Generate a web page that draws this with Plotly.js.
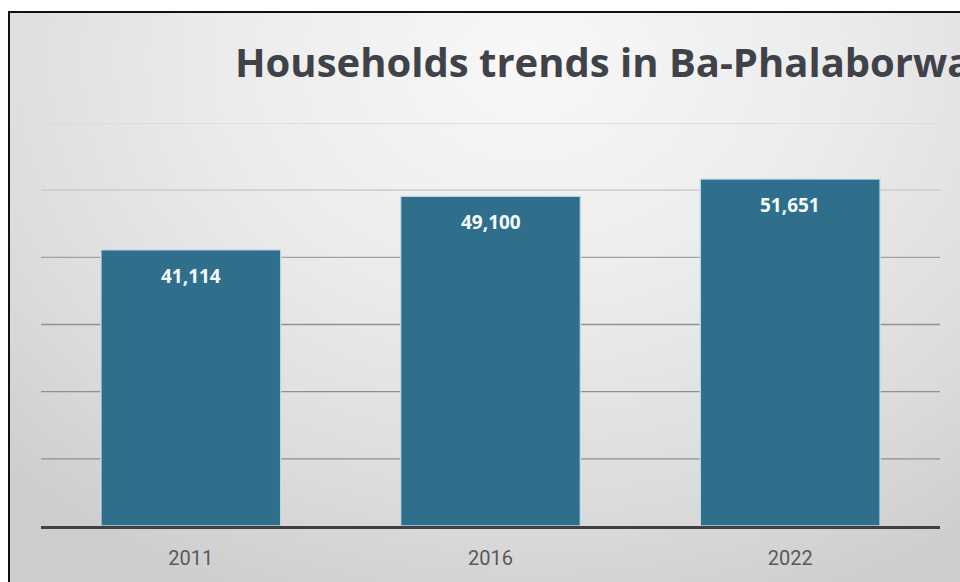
<!DOCTYPE html>
<html>
<head>
<meta charset="utf-8">
<script src="https://cdn.plot.ly/plotly-3.0.1.min.js"></script>
<style>
  html, body { margin: 0; padding: 0; width: 960px; height: 582px; overflow: hidden; background: #ffffff; }
  #frame {
    position: absolute; left: 8px; top: 11px;
    width: 1000px; height: 620px;
    border: 2px solid #111111;
    background: radial-gradient(ellipse 75% 95% at 52% 8%, #f8f8f8 0%, #ececec 40%, #dcdcdc 75%, #cdcdcd 100%);
  }
  #chart { width: 1000px; height: 620px; }
</style>
</head>
<body>
<div id="frame"><div id="chart"></div></div>
<script>
const years = ['2011', '2016', '2022'];
const households = [41114, 49100, 51651];
const labels = ['41,114', '49,100', '51,651'];
const gridValues = [10000, 20000, 30000, 40000, 50000, 60000];
const gridColors = ['#8e8e8e', '#909090', '#939393', '#a2a2a2', '#c6c6c6', '#d9d9d9'];
const titleText = 'Households trends in Ba-Phalaborwa';

const trace = {
  type: 'bar',
  x: years,
  y: households,
  marker: { color: '#306f8c', line: { color: 'rgba(196,228,240,0.85)', width: 1.5 } },
  hoverinfo: 'skip'
};

const shapes = gridValues.map((v, i) => ({
  type: 'line', xref: 'paper', yref: 'y', x0: 0, x1: 1, y0: v, y1: v,
  line: { color: gridColors[i], width: 1.3 }, layer: 'below'
}));

const annotations = years.map((yr, i) => ({
  x: i, y: households[i], xref: 'x', yref: 'y',
  text: labels[i], showarrow: false,
  yanchor: 'middle', yshift: -26,
  font: { family: 'Open Sans, sans-serif', size: 19, color: '#f4fbff', weight: 'bold' }
}));

const layout = {
  width: 1000, height: 620,
  margin: { l: 31, r: 70, t: 110, b: 107 },
  paper_bgcolor: 'rgba(0,0,0,0)',
  plot_bgcolor: 'rgba(0,0,0,0)',
  bargap: 0.4,
  showlegend: false,
  title: {
    text: titleText,
    xref: 'container', yref: 'container',
    x: 225 / 1000, xanchor: 'left',
    y: 1 - 50 / 620, yanchor: 'middle',
    font: { family: 'Open Sans, sans-serif', size: 40, color: '#3f4349', weight: 'bold' }
  },
  xaxis: {
    type: 'category',
    range: [-0.5, years.length - 0.5],
    autorange: false,
    showgrid: false,
    showline: true, linecolor: '#404040', linewidth: 3,
    ticks: 'outside', ticklen: 12, tickcolor: 'rgba(0,0,0,0)',
    tickfont: { family: 'Roboto, sans-serif', size: 20, color: '#595959' },
    fixedrange: true
  },
  yaxis: {
    range: [0, 60000],
    autorange: false,
    showgrid: false, zeroline: false, showticklabels: false, showline: false,
    fixedrange: true
  },
  shapes: shapes,
  annotations: annotations
};

Plotly.newPlot('chart', [trace], layout, { displayModeBar: false, staticPlot: true });
</script>
</body>
</html>
